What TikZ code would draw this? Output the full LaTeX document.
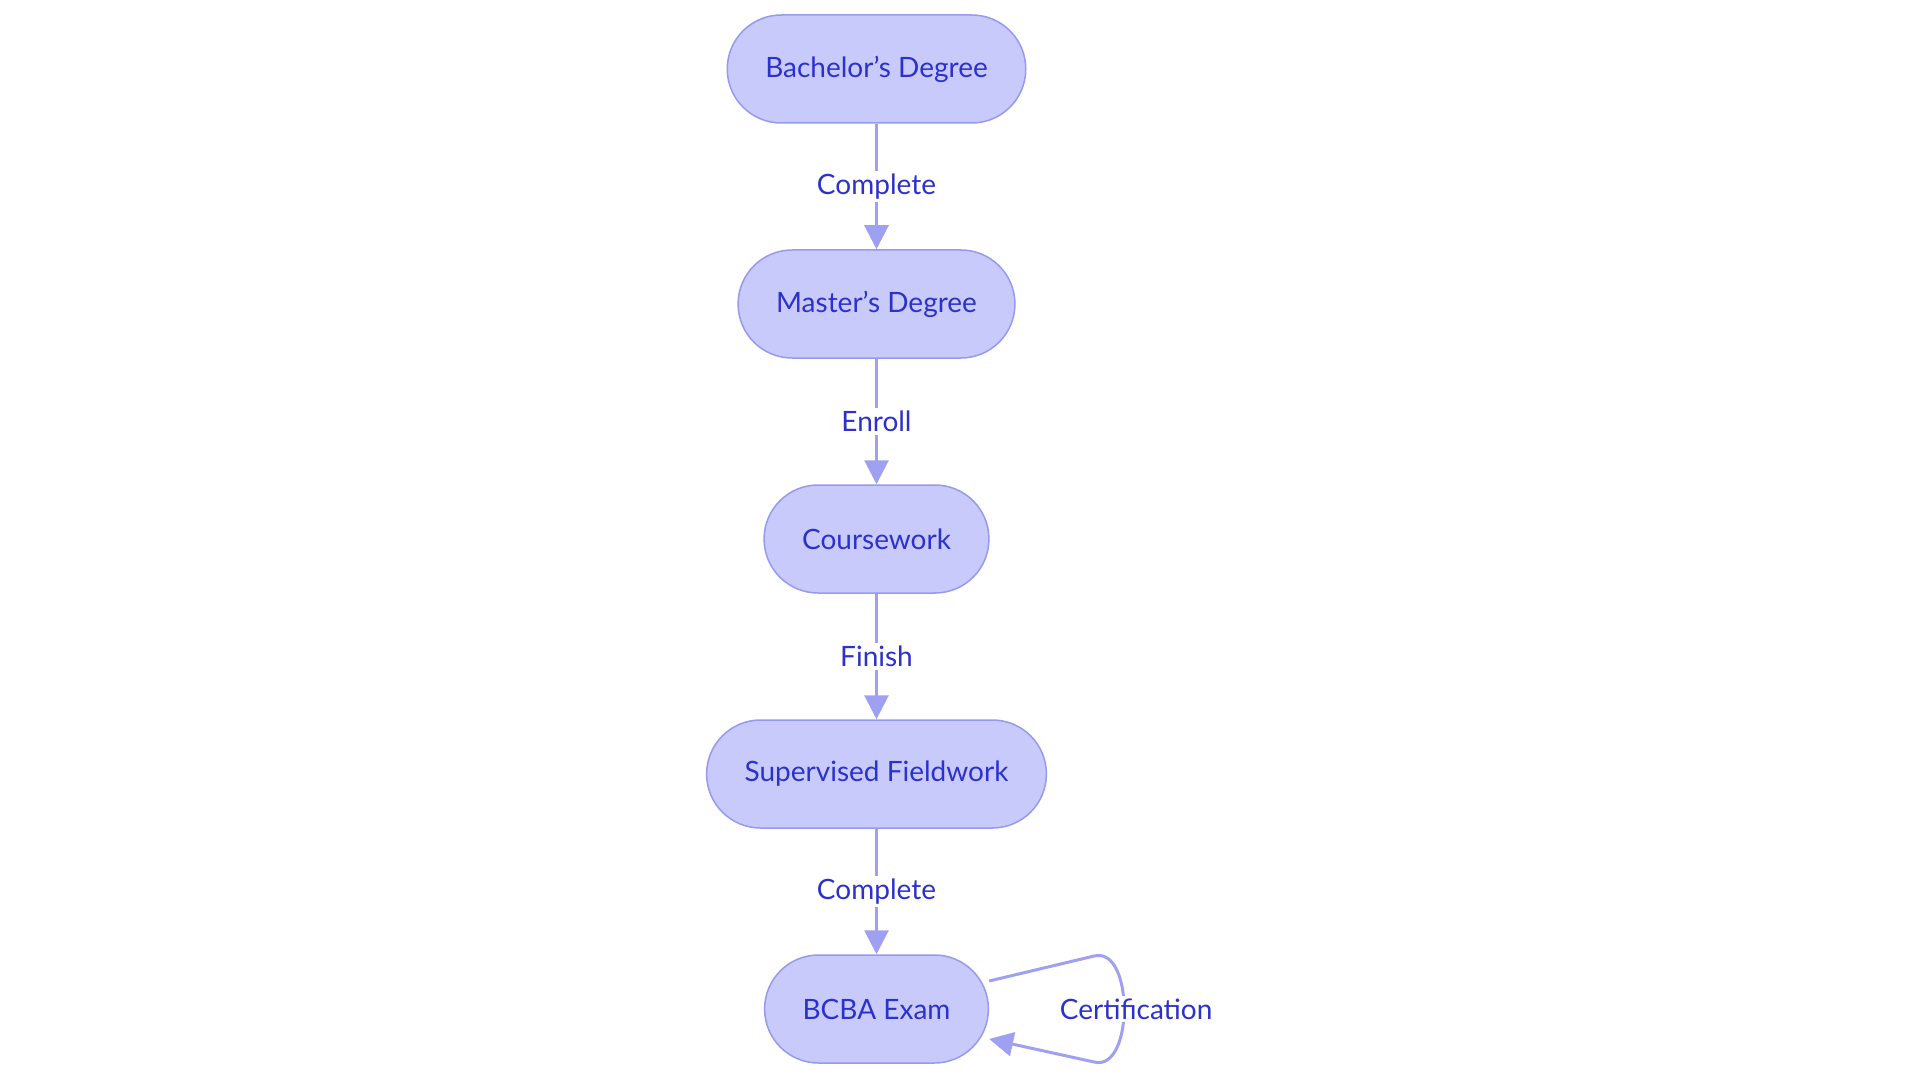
\documentclass[tikz,border=0pt]{standalone}
\usepackage{fontspec}
\setmainfont{Lato}
\usepackage{tikz}
\usepackage{xcolor}
\definecolor{stepfill}{RGB}{201,202,252}
\definecolor{stepline}{RGB}{150,153,240}
\definecolor{stepink}{RGB}{43,50,204}
\definecolor{linkline}{RGB}{158,161,242}
\usetikzlibrary{positioning,arrows.meta}

\begin{document}
\begin{tikzpicture}[
	x=1pt, y=1pt,
	node distance=125.5pt,
	stepbox/.style={
		draw=stepline,        % soft violet border
		line width=1.5pt,     % border thickness
		fill=stepfill,        % pale lavender fill
		text=stepink,         % deep blue text
		rectangle,            % shape
		rounded corners=54pt, % pill ends
		minimum height=108pt, % box height
		inner xsep=38pt       % side padding
	},
	link/.style={
		draw=linkline,
		line width=3pt,
		-{Triangle[length=24pt,width=24pt]}
	},
	linklabel/.style={
		fill=white,
		text=stepink,
		inner sep=3pt
	},
	font=\fontsize{28}{32}\selectfont
	]
	\useasboundingbox (0,0) rectangle (1920,-1083);

	\node[stepbox] (bachelor) at (876.5,-69) {Bachelor’s Degree};
	\node[stepbox, below=of bachelor] (master) {Master’s Degree};
	\node[stepbox, below=of master] (course) {Coursework};
	\node[stepbox, below=of course] (field) {Supervised Fieldwork};
	\node[stepbox, below=of field] (exam) {BCBA Exam};

	\draw[link] (bachelor) -- node[linklabel] {Complete} (master);
	\draw[link] (master) -- node[linklabel] {Enroll} (course);
	\draw[link] (course) -- node[linklabel] {Finish} (field);
	\draw[link] (field) -- node[linklabel] {Complete} (exam);

	% loop back onto the exam
	\draw[link] ([yshift=28pt]exam.east)
		-- ([shift={(105pt,53pt)}]exam.east)
		.. controls ([shift={(145pt,63pt)}]exam.east) and ([shift={(145pt,-63pt)}]exam.east)
		.. node[linklabel, pos=.5, xshift=12pt] {Certification} ([shift={(105pt,-53pt)}]exam.east)
		-- ([yshift=-30pt]exam.east);
\end{tikzpicture}
\end{document}
